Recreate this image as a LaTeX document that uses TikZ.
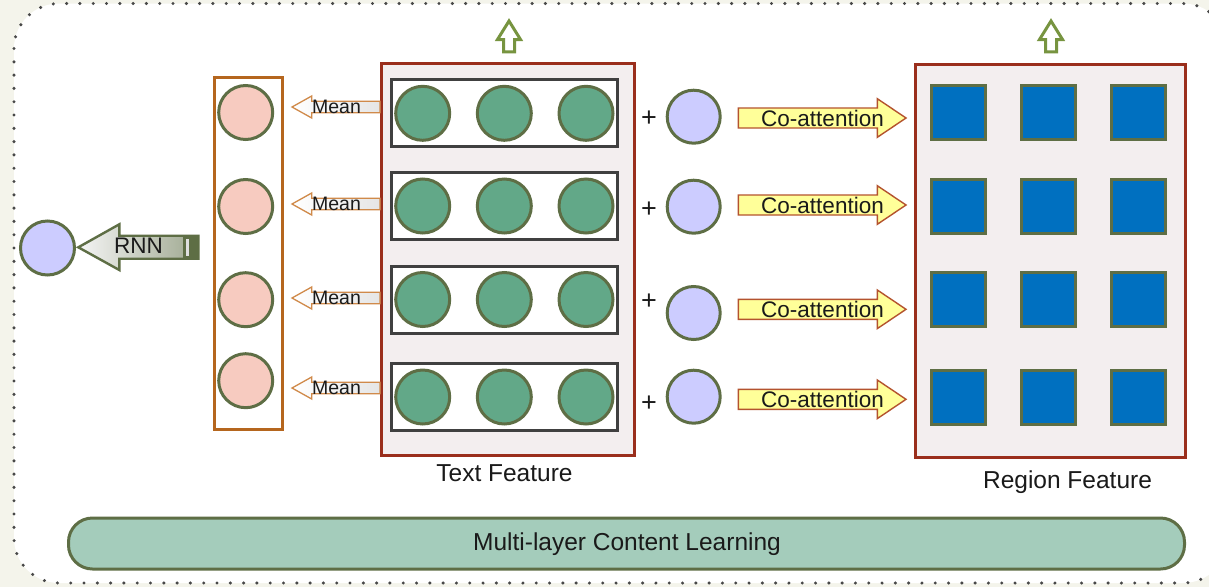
\documentclass[tikz,border=0pt]{standalone}
\usepackage{fontspec}
\setmainfont{Liberation Sans}
\definecolor{bg}{HTML}{F4F4EB}
\definecolor{olive}{HTML}{5E6E45}
\definecolor{pinkf}{HTML}{F7CBC0}
\definecolor{lav}{HTML}{CCCCFF}
\definecolor{tgreen}{HTML}{62A888}
\definecolor{dred}{HTML}{9A2E1C}
\definecolor{boxbg}{HTML}{F3EEEF}
\definecolor{orng}{HTML}{B5661E}
\definecolor{rblue}{HTML}{0070C0}
\definecolor{yel}{HTML}{FFFF99}
\definecolor{yelstroke}{HTML}{B4532E}
\definecolor{upg}{HTML}{779440}
\definecolor{barf}{HTML}{A4CCBB}
\definecolor{meanstroke}{HTML}{D08A4A}
\definecolor{rowgray}{HTML}{404040}
\definecolor{dotgray}{HTML}{484848}
\definecolor{txt}{HTML}{1A1A1A}
\begin{document}
\begin{tikzpicture}[x=1pt,y=-1pt,
  pcirc/.style={circle,draw=olive,line width=3pt,fill=pinkf,minimum size=54pt,inner sep=0pt},
  gcirc/.style={circle,draw=olive,line width=3pt,fill=tgreen,minimum size=54pt,inner sep=0pt},
  lcirc/.style={circle,draw=olive,line width=3pt,fill=lav,minimum size=53pt,inner sep=0pt},
  bsq/.style={rectangle,draw=olive,line width=3pt,fill=rblue,minimum size=54pt,inner sep=0pt},
  rowbox/.style={rectangle,draw=rowgray,line width=3pt,fill=white,minimum width=226pt,minimum height=67pt,inner sep=0pt},
  meanarr/.style={draw=meanstroke,line width=1.3pt,left color=white,right color=black!10,line join=miter},
  coarr/.style={draw=yelstroke,line width=1.4pt,fill=yel,line join=miter},
  uparr/.style={draw=upg,line width=3pt,fill=white,line join=miter},
  meanlbl/.style={font=\fontsize{19.5}{22}\selectfont,text=txt,inner sep=0pt},
  colbl/.style={font=\fontsize{22.5}{26}\selectfont,text=txt,inner sep=0pt},
  biglbl/.style={font=\fontsize{24.5}{28}\selectfont,text=txt,inner sep=0pt},
  pluslbl/.style={font=\fontsize{27}{30}\selectfont,text=txt,inner sep=0pt}
]
\useasboundingbox (0,0) rectangle (1209,587);
\fill[bg] (0,0) rectangle (1209,587);
\begin{scope}
\clip (0,0) rectangle (1209,587);
\fill[white,rounded corners=45pt] (14,3.5) rectangle (1228,583);
\draw[dotgray,line width=3.4pt,line cap=round,dash pattern=on 0pt off 13.3pt,rounded corners=45pt] (14,3.5) rectangle (1228,583);
\end{scope}

% Text feature box
\node[rectangle,draw=dred,line width=3pt,fill=boxbg,minimum width=253pt,minimum height=392pt,inner sep=0pt] (tf) at (508,259) {};
% Region feature box
\node[rectangle,draw=dred,line width=3pt,fill=boxbg,minimum width=270pt,minimum height=393pt,inner sep=0pt] (rf) at (1050.7,261.3) {};
% Pink column
\node[rectangle,draw=orng,line width=3pt,fill=white,minimum width=68pt,minimum height=352pt,inner sep=0pt] (col) at (248,253.2) {};

% rows of text feature
\foreach \i/\y in {1/113.3,2/206,3/299.5,4/397}{
  \node[rowbox] (row\i) at (504.7,\y) {};
  \node[gcirc] (g\i a) at (422.7,\y) {};
  \node[gcirc] (g\i b) at (504.3,\y) {};
  \node[gcirc] (g\i c) at (586,\y) {};
}
% region squares
\foreach \i/\y in {1/112.7,2/206,3/299.5,4/397}{
  \node[bsq] (s\i a) at (958.7,\y) {};
  \node[bsq] (s\i b) at (1048,\y) {};
  \node[bsq] (s\i c) at (1138,\y) {};
}
% pink circles
\foreach \i/\y in {1/112.5,2/206.5,3/299.7,4/380.7}{
  \node[pcirc] (p\i) at (245.7,\y) {};
}
% lavender circles and plus
\foreach \i/\y/\py in {1/116.7/119,2/206.7/210,3/313/302,4/396.7/404}{
  \node[lcirc] (q\i) at (693.7,\y) {};
  \node[pluslbl] (plus\i) at (649,\py) {+};
}
% Mean arrows
\foreach \i/\y in {1/107,2/204,3/298,4/388}{
  \coordinate (mt\i) at (292,\y);
  \draw[meanarr] (mt\i) -- ++(19.7,-11) -- ++(0,5.3) -- (tf.west |- 0,\y-5.7) -- (tf.west |- 0,\y+5.7) -- (311.7,\y+5.7) -- ++(0,5.3) -- cycle;
  \node[meanlbl] (mean\i) at (336.5,\y) {Mean};
}
% Co-attention arrows
\foreach \i/\y in {1/118,2/205,3/309.3,4/399.3}{
  \coordinate (ct\i) at (906,\y);
  \draw[coarr] (738.3,\y-10) -- (877.3,\y-10) -- (877.3,\y-19.3) -- (ct\i) -- (877.3,\y+19.3) -- (877.3,\y+10) -- (738.3,\y+10) -- cycle;
  \node[colbl] (co\i) at (822.5,\y) {Co-attention};
}
% up arrows
\foreach \n/\cx in {tfup/509,rfup/1051}{
  \coordinate (\n) at (\cx,21);
  \draw[uparr] (\n) -- ++(11.5,18.5) -- ++(-6,0) -- ++(0,12.3) -- ++(-11,0) -- ++(0,-12.3) -- ++(-6,0) -- cycle;
}
% left lavender circle
\node[lcirc,minimum size=54pt] (out) at (47.5,248) {};
% RNN arrow
\coordinate (rt) at (78.3,247.3);
\draw[draw=olive,line width=2.4pt,left color=black!4,right color=olive!60,line join=miter]
  (rt) -- (119.3,224.3) -- (119.3,235.7) -- (198.3,235.7) -- (198.3,258.7) -- (119.3,258.7) -- (119.3,270) -- cycle;
\fill[olive] (182.5,235.7) rectangle (198.3,258.7);
\fill[black!12] (185.7,238.5) rectangle (189,256);
\node[colbl] (rnn) at (138.5,246) {RNN};

% labels
\node[biglbl] (tfl) at (504.5,473) {Text Feature};
\node[biglbl] (rfl) at (1067.5,482) {Region Feature};
% bottom bar
\node[rectangle,rounded corners=24pt,draw=olive,line width=3pt,fill=barf,minimum width=1116pt,minimum height=51pt,inner sep=0pt] (bar) at (626.5,543.5) {};
\node[biglbl] (barl) at (627,544) {Multi-layer Content Learning};
\end{tikzpicture}
\end{document}
